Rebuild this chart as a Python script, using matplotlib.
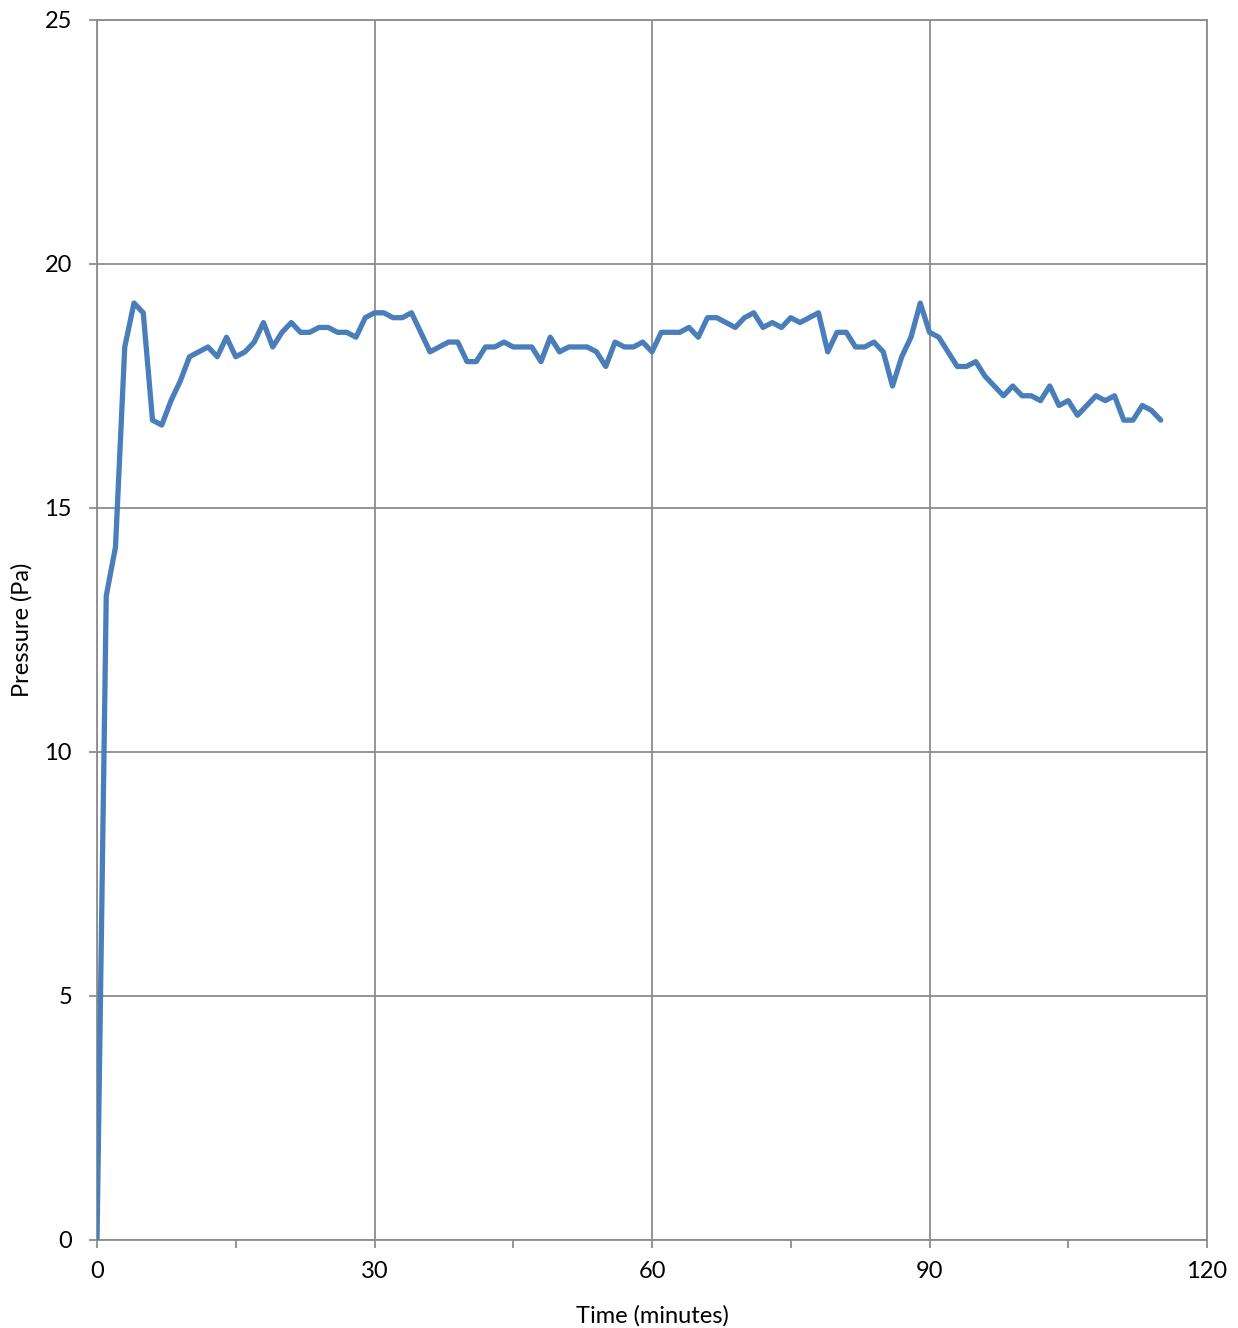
import matplotlib
matplotlib.use("Agg")
import matplotlib.pyplot as plt
from matplotlib.ticker import MultipleLocator

time_min = list(range(0, 116))
pressure_pa = [
    0.0, 13.2, 14.2, 18.3, 19.2, 19.0, 16.8, 16.7, 17.2, 17.6,
    18.1, 18.2, 18.3, 18.1, 18.5, 18.1, 18.2, 18.4, 18.8, 18.3,
    18.6, 18.8, 18.6, 18.6, 18.7, 18.7, 18.6, 18.6, 18.5, 18.9,
    19.0, 19.0, 18.9, 18.9, 19.0, 18.6, 18.2, 18.3, 18.4, 18.4,
    18.0, 18.0, 18.3, 18.3, 18.4, 18.3, 18.3, 18.3, 18.0, 18.5,
    18.2, 18.3, 18.3, 18.3, 18.2, 17.9, 18.4, 18.3, 18.3, 18.4,
    18.2, 18.6, 18.6, 18.6, 18.7, 18.5, 18.9, 18.9, 18.8, 18.7,
    18.9, 19.0, 18.7, 18.8, 18.7, 18.9, 18.8, 18.9, 19.0, 18.2,
    18.6, 18.6, 18.3, 18.3, 18.4, 18.2, 17.5, 18.1, 18.5, 19.2,
    18.6, 18.5, 18.2, 17.9, 17.9, 18.0, 17.7, 17.5, 17.3, 17.5,
    17.3, 17.3, 17.2, 17.5, 17.1, 17.2, 16.9, 17.1, 17.3, 17.2,
    17.3, 16.8, 16.8, 17.1, 17.0, 16.8,
]
x_ticks = [0, 30, 60, 90, 120]
y_ticks = [0, 5, 10, 15, 20, 25]
x_label = "Time (minutes)"
y_label = "Pressure (Pa)"

W, H = 1238, 1328
fig = plt.figure(figsize=(W / 100, H / 100), dpi=100)
plt.rcParams['font.family'] = ['Lato', 'DejaVu Sans']
ax = fig.add_axes([97 / W, (H - 1240) / H, 1110 / W, 1220 / H])

grid_c = "#8c8c8c"
ax.plot(time_min, pressure_pa, color="#4a7ebb", lw=3.8, solid_joinstyle="round",
        solid_capstyle="round", zorder=3)

ax.set_xlim(0, 120)
ax.set_ylim(0, 25)
ax.set_xticks(x_ticks)
ax.set_yticks(y_ticks)
ax.xaxis.set_minor_locator(MultipleLocator(15))
ax.grid(True, which="major", color=grid_c, lw=1.3)
for s in ax.spines.values():
    s.set_color(grid_c)
    s.set_linewidth(1.3)
ax.tick_params(axis="both", which="both", direction="out", color=grid_c, width=1.3,
               length=6, labelsize=17, labelcolor="black")
ax.tick_params(axis="x", pad=9)
ax.tick_params(axis="y", pad=12)
ax.tick_params(axis="y", which="minor", left=False)

ax.set_xlabel(x_label, fontsize=17)
ax.set_ylabel(y_label, fontsize=17)
ax.xaxis.set_label_coords(0.5, (1240 - 1305) / 1220)
ax.yaxis.set_label_coords((33 - 97) / 1110, 0.5)

fig.savefig("out.png", dpi=100)
